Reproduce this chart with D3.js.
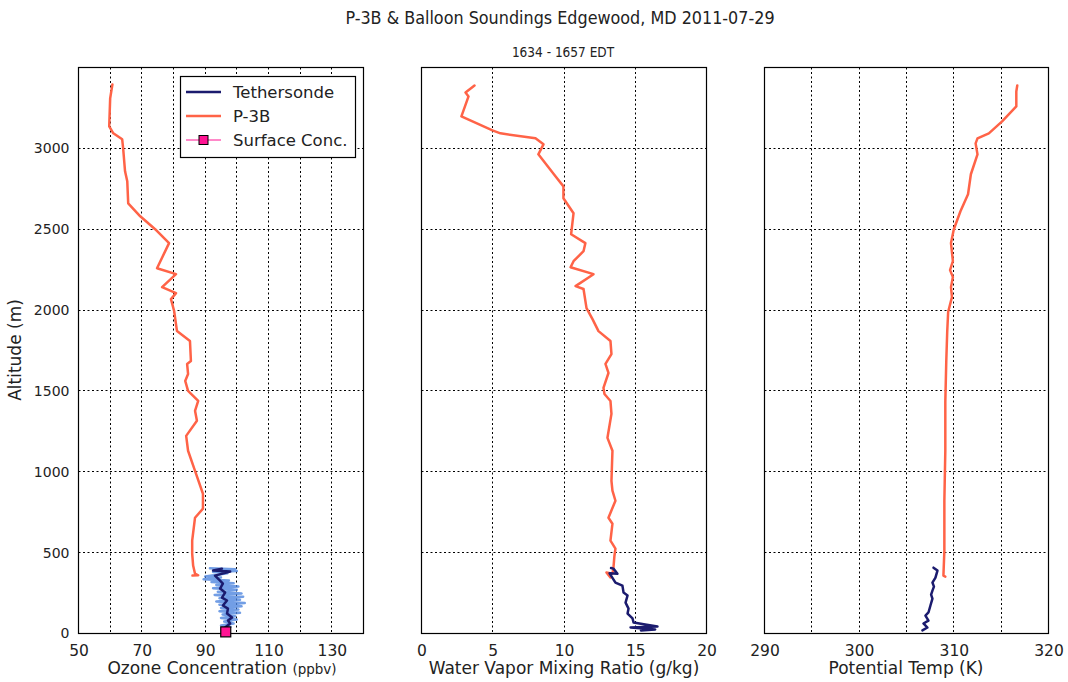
<!DOCTYPE html>
<html>
<head>
<meta charset="utf-8">
<script src="https://cdn.jsdelivr.net/npm/d3@7"></script>
<style>
  html, body { margin: 0; padding: 0; background: #fff; }
  svg { display: block; }
  text { font-family: "DejaVu Sans", sans-serif; fill: #222; }
  .title { font-family: "DejaVu Sans Condensed", "DejaVu Sans", sans-serif; font-stretch: condensed; }
</style>
</head>
<body>
<svg id="chart" width="1068" height="682"></svg>
<script>
// ---- Data: [value, altitude (m)] ----
const altTicks = [0, 500, 1000, 1500, 2000, 2500, 3000];

// Ozone (ppbv)
const ozoneTicks = [50, 70, 90, 110, 130];
const ozoneGrid = [60, 70, 80, 90, 100, 110, 120, 130];
const p3bOzone = [
  [60.7,3395],[60.0,3309],[59.7,3136],[61.0,3093],[63.8,3056],[64.1,3000],[64.7,2858],
  [65.4,2796],[65.7,2660],[69.5,2580],[74.2,2500],[78.6,2414],[74.8,2259],[80.8,2222],
  [76.4,2142],[80.8,2105],[79.2,2068],[80.2,1994],[81.1,1870],[85.2,1809],[85.5,1685],
  [84.3,1667],[84.6,1605],[83.7,1562],[84.6,1500],[87.8,1438],[86.8,1377],[87.4,1315],
  [84.0,1222],[84.6,1130],[86.8,1006],[89.3,864],[89.3,772],[86.8,716],[85.9,574],
  [85.9,494],[86.2,420],[86.8,370],[87.8,360],[86.0,358]
];
const tetherOzoneRaw = [
  [91.5,403],[99.5,398],[93,392],[100,386],[92.5,380],[97,372],[90,352],[95,346],
  [89.5,335],[97.5,328],[92,318],[99,310],[93.5,300],[100.5,290],[92.5,280],[100,270],
  [94,258],[101.5,248],[93,238],[102,228],[94.5,218],[101,208],[93.5,198],[102.5,188],
  [94.5,178],[101.5,168],[95,158],[100.5,148],[94.5,138],[101,128],[95.5,118],[99.5,106],
  [95,96],[100,86],[96,74],[99,62],[95,50],[98,40]
];
const tetherOzone = [
  [95.3,401],[92.5,389],[97.9,383],[93.1,358],[94.7,327],[95.6,309],[94.7,278],[96.3,253],
  [95.3,222],[96.9,204],[95.6,173],[97.2,154],[96.9,123],[98.5,99],[97.2,80],[97.9,62],
  [96.3,37],[96.9,19]
];
const surfaceOzone = [[96.5, 10]];

// Water vapor mixing ratio (g/kg)
const wvTicks = [0, 5, 10, 15, 20];
const wvGrid = [5, 10, 15];
const p3bWater = [
  [3.72,3389],[3.09,3346],[3.3,3321],[2.8,3198],[4.98,3111],[5.54,3093],[8.0,3062],
  [8.56,3025],[8.2,2963],[9.4,2827],[9.96,2765],[9.96,2691],[10.67,2599],[10.5,2469],
  [11.5,2414],[11.37,2364],[10.67,2302],[10.46,2265],[12.07,2222],[10.81,2148],[11.37,2130],
  [11.58,2012],[12.0,1944],[12.42,1870],[13.26,1809],[13.33,1728],[12.91,1667],[13.12,1611],
  [12.77,1519],[12.84,1481],[13.26,1438],[13.33,1358],[13.05,1210],[13.4,1130],[13.33,944],
  [13.4,883],[13.61,821],[13.12,716],[13.4,679],[13.26,574],[13.61,525],[13.54,481],
  [13.47,407],[13.4,370],[12.98,377],[13.26,346]
];
const tetherWater = [
  [13.3,405],[13.47,401],[13.75,370],[13.2,372],[13.61,315],[14.1,296],[14.18,253],[14.46,235],
  [14.32,191],[14.53,154],[14.46,123],[14.81,93],[14.88,68],[15.7,56],[16.56,43],
  [14.67,37],[16.4,25],[15.4,19]
];

// Potential temperature (K)
const thetaTicks = [290, 300, 310, 320];
const thetaGrid = [295, 300, 305, 310, 315];
const p3bTheta = [
  [316.7,3389],[316.6,3352],[316.6,3259],[315.1,3167],[313.7,3093],[312.5,3062],[312.3,3031],
  [312.5,2963],[311.8,2840],[311.5,2716],[310.7,2611],[310.0,2500],[309.7,2414],[309.9,2302],
  [309.6,2247],[309.9,2204],[309.7,2142],[309.8,2080],[309.4,1988],[309.3,1864],[309.2,1680],
  [309.1,1432],[309.1,1130],[309.0,821],[309.0,512],[308.9,358],[309.1,352]
];
const tetherTheta = [
  [307.85,407],[308.27,389],[308.06,346],[307.74,315],[307.9,290],[307.74,265],[307.6,240],
  [307.74,216],[307.53,173],[307.32,130],[307.0,111],[307.32,80],[306.79,62],[307.21,37],[306.68,19]
];

// ---- Layout ----
const svg = d3.select("#chart");
const plotTop = 67.5, plotBottom = 633.5;
const y = d3.scaleLinear().domain([0, 3500]).range([plotBottom, plotTop]);
const crisp = v => Math.round(v - 0.5) + 0.5;

const colP3B = "#ff6347";
const colTether = "#1b1b6e";
const colRaw = "#4f86df";
const colSurface = "#ff1493";

const panels = [
  { x0: 78.5, x1: 363.5, domain: [50, 140], ticks: ozoneTicks, grid: ozoneGrid,
    series: [
      { data: tetherOzoneRaw, color: colRaw, width: 2.5, opacity: 0.8 },
      { data: p3bOzone, color: colP3B, width: 2.5 },
      { data: tetherOzone, color: colTether, width: 2.5 }
    ] },
  { x0: 421.5, x1: 706.5, domain: [0, 20], ticks: wvTicks, grid: wvGrid,
    series: [
      { data: p3bWater, color: colP3B, width: 2.5 },
      { data: tetherWater, color: colTether, width: 2.5 }
    ] },
  { x0: 764.5, x1: 1048.5, domain: [290, 320], ticks: thetaTicks, grid: thetaGrid,
    series: [
      { data: p3bTheta, color: colP3B, width: 2.5 },
      { data: tetherTheta, color: colTether, width: 2.5 }
    ] }
];

panels.forEach((p, i) => {
  const x = d3.scaleLinear().domain(p.domain).range([p.x0, p.x1]);
  p.x = x;
  const g = svg.append("g");

  // dotted grid
  g.selectAll(".vg").data(p.grid).join("line")
    .attr("x1", d => crisp(x(d))).attr("x2", d => crisp(x(d)))
    .attr("y1", plotTop).attr("y2", plotBottom)
    .attr("stroke", "#000").attr("stroke-width", 1).attr("stroke-dasharray", "2,2.5");
  g.selectAll(".hg").data(altTicks.filter(d => d > 0)).join("line")
    .attr("x1", p.x0).attr("x2", p.x1)
    .attr("y1", d => crisp(y(d))).attr("y2", d => crisp(y(d)))
    .attr("stroke", "#000").attr("stroke-width", 1).attr("stroke-dasharray", "2,2.5");

  const line = d3.line().x(d => x(d[0])).y(d => y(d[1]));
  p.series.forEach(s => {
    g.append("path").datum(s.data)
      .attr("d", line).attr("fill", "none")
      .attr("stroke", s.color).attr("stroke-width", s.width)
      .attr("stroke-linejoin", "round").attr("stroke-linecap", "round")
      .attr("opacity", s.opacity || 1);
  });

  // frame
  g.append("rect").attr("x", p.x0).attr("y", plotTop)
    .attr("width", p.x1 - p.x0).attr("height", plotBottom - plotTop)
    .attr("fill", "none").attr("stroke", "#000").attr("stroke-width", 1.2);

  // x axis labels
  const xAxis = d3.axisBottom(x).tickValues(p.ticks).tickSize(0).tickPadding(11);
  const ax = svg.append("g").attr("transform", `translate(0,${plotBottom})`).call(xAxis);
  ax.select(".domain").remove();
  ax.selectAll("text").attr("font-size", 15.5).attr("font-family", "DejaVu Sans").attr("fill", "#222");

  if (i === 0) {
    const yAxis = d3.axisLeft(y).tickValues(altTicks).tickFormat(d3.format("d"))
      .tickSize(0).tickPadding(9);
    const ay = svg.append("g").attr("transform", `translate(${p.x0},0)`).call(yAxis);
    ay.select(".domain").remove();
    ay.selectAll("text").attr("font-size", 14).attr("font-family", "DejaVu Sans").attr("fill", "#222");
  }
});

// surface ozone marker
const xo = panels[0].x;
svg.selectAll(".surf").data(surfaceOzone).join("rect")
  .attr("x", d => xo(d[0]) - 5).attr("y", d => y(d[1]) - 5)
  .attr("width", 10).attr("height", 10)
  .attr("fill", colSurface).attr("stroke", "#000").attr("stroke-width", 1.2);

// axis titles
svg.append("text").attr("x", 222).attr("y", 674).attr("text-anchor", "middle")
  .attr("font-size", 17)
  .html('Ozone Concentration <tspan font-size="13.5">(ppbv)</tspan>');
svg.append("text").attr("x", 564).attr("y", 674).attr("text-anchor", "middle")
  .attr("font-size", 17).text("Water Vapor Mixing Ratio (g/kg)");
svg.append("text").attr("x", 906).attr("y", 674).attr("text-anchor", "middle")
  .attr("font-size", 17).text("Potential Temp (K)");
svg.append("text").attr("transform", "translate(21,350) rotate(-90)")
  .attr("text-anchor", "middle").attr("font-size", 17).text("Altitude (m)");

// titles
svg.append("text").attr("class", "title").attr("x", 560).attr("y", 24)
  .attr("text-anchor", "middle").attr("font-size", 17.8)
  .text("P-3B & Balloon Soundings Edgewood, MD 2011-07-29");
svg.append("text").attr("class", "title").attr("x", 563).attr("y", 57)
  .attr("text-anchor", "middle").attr("font-size", 13.5)
  .text("1634 - 1657 EDT");

// legend
const legendItems = [
  { label: "Tethersonde", color: colTether, width: 2.5, marker: false },
  { label: "P-3B", color: colP3B, width: 2.5, marker: false },
  { label: "Surface Conc.", color: colSurface, width: 1, marker: true }
];
const lg = svg.append("g");
lg.append("rect").attr("x", 180.5).attr("y", 76.5).attr("width", 175).attr("height", 81)
  .attr("fill", "#fff").attr("stroke", "#000").attr("stroke-width", 1.2);
legendItems.forEach((d, k) => {
  const ly = 92 + k * 24;
  lg.append("line").attr("x1", 186).attr("x2", 221).attr("y1", ly).attr("y2", ly)
    .attr("stroke", d.color).attr("stroke-width", d.width);
  if (d.marker) {
    lg.append("rect").attr("x", 199).attr("y", ly - 4.5).attr("width", 9).attr("height", 9)
      .attr("fill", d.color).attr("stroke", "#000").attr("stroke-width", 1);
  }
  lg.append("text").attr("x", 233).attr("y", ly + 6).attr("font-size", 16.5).text(d.label);
});
</script>
</body>
</html>
